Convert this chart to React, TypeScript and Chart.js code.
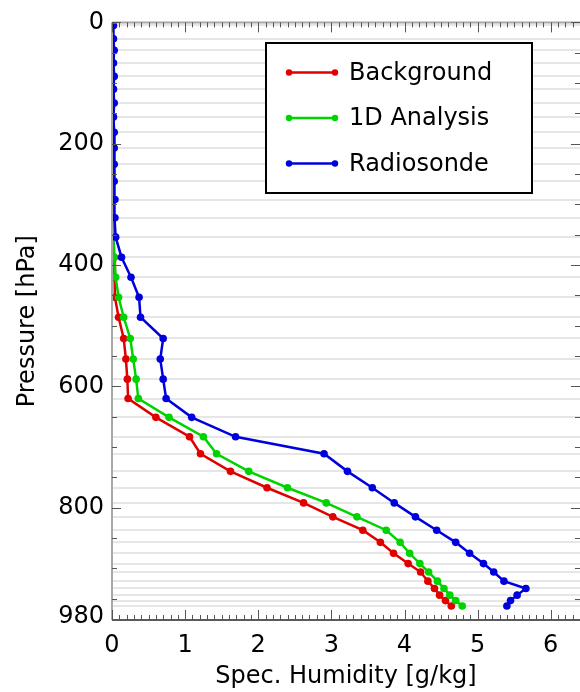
import React, { useEffect, useRef } from 'react';
import { Chart, registerables } from 'chart.js';

Chart.register(...registerables);

// Pressure levels (hPa) of the profiles
const PRESSURE_LEVELS = [5, 27, 46, 67, 89, 110, 133, 156, 181, 207, 234, 262, 292, 322, 354, 387, 420, 453, 486, 521, 555, 588, 620, 651, 683, 711, 740, 767, 792, 815, 837, 857, 875, 892, 906, 921, 933, 944, 953, 962];

// Specific humidity (g/kg)
const BACKGROUND = [0.01, 0.01, 0.01, 0.01, 0.01, 0.01, 0.01, 0.01, 0.01, 0.01, 0.01, 0.01, 0.01, 0.01, 0.02, 0.03, 0.04, 0.04, 0.09, 0.16, 0.19, 0.21, 0.22, 0.60, 1.06, 1.21, 1.62, 2.12, 2.62, 3.02, 3.43, 3.67, 3.85, 4.05, 4.22, 4.32, 4.41, 4.48, 4.56, 4.64];
const ANALYSIS_1D = [0.01, 0.01, 0.01, 0.01, 0.01, 0.01, 0.01, 0.01, 0.01, 0.01, 0.01, 0.01, 0.01, 0.01, 0.02, 0.03, 0.05, 0.09, 0.16, 0.25, 0.29, 0.33, 0.36, 0.78, 1.25, 1.43, 1.87, 2.40, 2.93, 3.35, 3.75, 3.94, 4.07, 4.21, 4.33, 4.45, 4.54, 4.62, 4.70, 4.79];
const RADIOSONDE = [0.02, 0.02, 0.03, 0.02, 0.03, 0.02, 0.03, 0.02, 0.03, 0.03, 0.03, 0.03, 0.04, 0.04, 0.05, 0.13, 0.26, 0.37, 0.39, 0.70, 0.66, 0.70, 0.74, 1.09, 1.69, 2.90, 3.22, 3.56, 3.86, 4.15, 4.44, 4.70, 4.89, 5.08, 5.22, 5.36, 5.66, 5.54, 5.45, 5.40];

const SERIES_LABELS = ['Background', '1D Analysis', 'Radiosonde'];
const SERIES_COLORS = ['#e00000', '#00d400', '#0000dc'];

const Y_TICK_LABELS = [0, 200, 400, 600, 800, 980];
const X_TICK_LABELS = [0, 1, 2, 3, 4, 5, 6];
const X_MIN = 0;
const X_MAX = 6.4;
const Y_MIN = 0;
const Y_MAX = 985;
const X_MINOR_STEP = 0.1;
const Y_MINOR_STEP = 50;
const Y_MAJOR_STEP = 200;

const FONT_FAMILY = '"DejaVu Sans", sans-serif';

const framePlugin = {
  id: 'frame',
  afterDraw(chart: any) {
    const { ctx, chartArea } = chart;
    const { left, right, top, bottom } = chartArea;
    const xs = chart.scales.x;
    const ys = chart.scales.y;
    ctx.save();
    const line = (x1: number, y1: number, x2: number, y2: number) => {
      ctx.beginPath();
      ctx.moveTo(x1, y1);
      ctx.lineTo(x2, y2);
      ctx.stroke();
    };
    // frame
    ctx.lineWidth = 2;
    ctx.strokeStyle = '#a8a8a8';
    line(left, top, right, top);
    line(left, top, left, bottom);
    line(right + 1, top, right + 1, bottom);
    ctx.strokeStyle = '#5a5a5a';
    line(left, bottom, right, bottom);
    // x ticks
    ctx.lineWidth = 1;
    ctx.strokeStyle = '#555';
    const nx = Math.round((X_MAX - X_MIN) / X_MINOR_STEP);
    for (let i = 0; i <= nx; i++) {
      const v = X_MIN + i * X_MINOR_STEP;
      const px = Math.round(xs.getPixelForValue(v)) + 0.5;
      const len = i % 10 === 0 ? 10 : 5;
      line(px, bottom, px, bottom - len);
      line(px, top, px, top + len);
    }
    // y ticks
    for (let v = Y_MIN; v <= Y_MAX; v += Y_MINOR_STEP) {
      const py = Math.round(ys.getPixelForValue(v)) + 0.5;
      const len = v % Y_MAJOR_STEP === 0 ? 9 : 5;
      line(left, py, left + len, py);
      line(right, py, right - len, py);
    }
    ctx.restore();
  },
};

const legendPlugin = {
  id: 'boxLegend',
  afterDraw(chart: any) {
    const { ctx } = chart;
    const bx = 266, by = 43, bw = 266, bh = 150;
    ctx.save();
    ctx.fillStyle = '#ffffff';
    ctx.fillRect(bx, by, bw, bh);
    ctx.lineWidth = 2;
    ctx.strokeStyle = '#000';
    ctx.strokeRect(bx, by, bw, bh);
    ctx.font = `24px ${FONT_FAMILY}`;
    ctx.textBaseline = 'middle';
    ctx.textAlign = 'left';
    chart.data.datasets.forEach((ds: any, i: number) => {
      const cy = 72.5 + i * 45.5;
      const x1 = 289, x2 = 335;
      ctx.strokeStyle = ds.borderColor;
      ctx.lineWidth = 2.5;
      ctx.beginPath();
      ctx.moveTo(x1, cy);
      ctx.lineTo(x2, cy);
      ctx.stroke();
      ctx.fillStyle = ds.borderColor;
      [x1, x2].forEach((x) => {
        ctx.beginPath();
        ctx.arc(x, cy, 3.2, 0, Math.PI * 2);
        ctx.fill();
      });
      ctx.fillStyle = '#000';
      ctx.fillText(ds.label, 349, cy + 1);
    });
    ctx.restore();
  },
};

export default function App() {
  const canvasRef = useRef<HTMLCanvasElement | null>(null);

  useEffect(() => {
    const canvas = canvasRef.current;
    if (!canvas) return;
    const seriesValues = [BACKGROUND, ANALYSIS_1D, RADIOSONDE];
    const orders = [2, 1, 0];
    const font = { family: FONT_FAMILY, size: 24 };
    const chart = new Chart(canvas, {
      type: 'line',
      data: {
        datasets: seriesValues.map((vals, i) => ({
          label: SERIES_LABELS[i],
          data: PRESSURE_LEVELS.map((p, j) => ({ x: vals[j], y: p })),
          borderColor: SERIES_COLORS[i],
          backgroundColor: SERIES_COLORS[i],
          borderWidth: 2.5,
          pointRadius: 3.8,
          pointBorderWidth: 0,
          pointBackgroundColor: SERIES_COLORS[i],
          fill: false,
          tension: 0,
          order: orders[i],
        })),
      },
      options: {
        animation: false,
        responsive: false,
        maintainAspectRatio: false,
        layout: { autoPadding: false, padding: { top: 15, left: 0, right: 0, bottom: 0 } },
        plugins: {
          legend: { display: false },
          tooltip: { enabled: false },
        },
        scales: {
          x: {
            type: 'linear',
            position: 'bottom',
            min: X_MIN,
            max: X_MAX,
            afterBuildTicks: (s: any) => {
              s.ticks = X_TICK_LABELS.map((v) => ({ value: v }));
            },
            afterFit: (s: any) => {
              s.height = 72;
              s.paddingLeft = 0;
              s.paddingRight = 0;
            },
            grid: { display: false, drawTicks: false },
            border: { display: false },
            ticks: {
              font,
              color: '#000',
              padding: 11,
              maxRotation: 0,
              autoSkip: false,
              callback: (v: any) => String(v),
            },
            title: {
              display: true,
              text: 'Spec. Humidity [g/kg]',
              font,
              color: '#000',
              padding: { top: 0, bottom: 1 },
            },
          },
          y: {
            type: 'linear',
            position: 'left',
            reverse: true,
            min: Y_MIN,
            max: Y_MAX,
            afterBuildTicks: (s: any) => {
              const vals = Array.from(new Set([...Y_TICK_LABELS, ...PRESSURE_LEVELS])).sort((a, b) => a - b);
              s.ticks = vals.map((v) => ({ value: v }));
            },
            afterFit: (s: any) => {
              s.width = 112;
            },
            grid: {
              drawTicks: false,
              lineWidth: 2,
              color: (c: any) =>
                c.tick && PRESSURE_LEVELS.includes(c.tick.value) ? '#e6e6e6' : 'rgba(0,0,0,0)',
            },
            border: { display: false },
            ticks: {
              font,
              color: '#000',
              padding: 8,
              autoSkip: false,
              callback: (v: any) => (Y_TICK_LABELS.includes(v) ? String(v) : ''),
            },
            title: {
              display: true,
              text: 'Pressure [hPa]',
              font,
              color: '#000',
              padding: { top: 13, bottom: 0 },
            },
          },
        },
      },
      plugins: [framePlugin, legendPlugin],
    });
    return () => chart.destroy();
  }, []);

  return (
    <div style={{ position: 'absolute', left: 0, top: 0, width: 580, height: 692, background: '#fff' }}>
      <canvas ref={canvasRef} width={580} height={692} style={{ display: 'block', width: 580, height: 692 }} />
    </div>
  );
}
